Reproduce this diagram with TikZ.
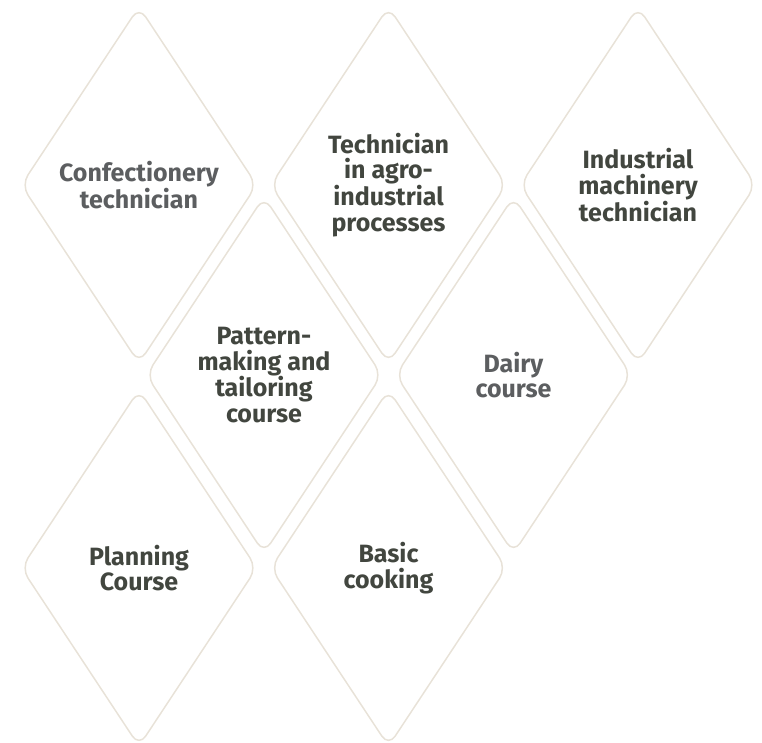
\documentclass[tikz,border=0pt]{standalone}
\usepackage{fontspec}
\setmainfont{Fira Sans}
\usetikzlibrary{shapes.geometric}

\definecolor{edgebeige}{HTML}{E8E2D8}
\definecolor{darktext}{HTML}{42463F}
\definecolor{greytext}{HTML}{5C5E60}

\tikzstyle{tile} = [diamond, draw=edgebeige, line width=1.5pt, rounded corners=12pt, minimum width=236pt, minimum height=357pt, inner sep=0pt, text=darktext, align=center, font=\fontsize{25}{25.5}\selectfont\bfseries]
\tikzstyle{pale} = [text=greytext]

\begin{document}
\begin{tikzpicture}[node distance=249.5pt, auto]
    \useasboundingbox (0,0) rectangle (762pt,-742pt);

    % top row
    \node[tile, pale] (conf) at (139pt,-185pt) {Confectionery\\technician};
    \node[tile, right of=conf] (agro) {Technician\\in agro-\\industrial\\processes};
    \node[tile, right of=agro] (machinery) {Industrial\\machinery\\technician};

    % middle row
    \node[tile, below of=conf, xshift=125pt, node distance=190pt] (pattern) {Pattern-\\making and\\tailoring\\course};
    \node[tile, pale, right of=pattern] (dairy) {Dairy\\course};

    % bottom row
    \node[tile, below of=conf, node distance=383pt] (planning) {Planning\\Course};
    \node[tile, right of=planning] (cooking) {Basic\\cooking};
\end{tikzpicture}
\end{document}
